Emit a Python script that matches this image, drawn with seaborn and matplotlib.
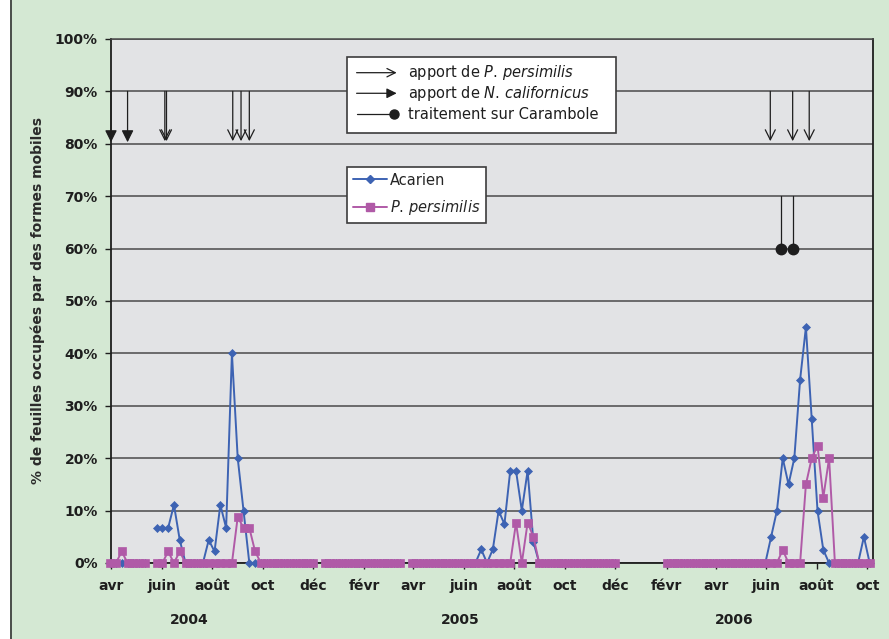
import numpy as np
import pandas as pd
import matplotlib.pyplot as plt
import matplotlib.dates as mdates
from matplotlib.patches import Rectangle
from matplotlib.lines import Line2D
from matplotlib.ticker import FuncFormatter, MultipleLocator
import seaborn as sns

# RELEVÉS HEBDOMADAIRES (un relevé tous les 7 jours à partir de la date de début)
CAMPAGNES = ['2004-03-31', '2004-05-26', '2004-12-15', '2005-03-30', '2006-02-01']

ACARIEN = [
    [0, 0, 0, 0, 0, 0, 0],
    [6.7, 6.7, 6.7, 11.1, 4.4, 0, 0, 0, 0, 4.4, 2.2, 11.1, 6.7, 40,
     20, 10, 0, 0, 0, 0, 0, 0, 0, 0, 0, 0, 0, 0],
    [0, 0, 0, 0, 0, 0, 0, 0, 0, 0, 0, 0, 0, 0],
    [0, 0, 0, 0, 0, 0, 0, 0, 0, 0, 0, 0, 2.6, 0, 2.6, 10, 7.4, 17.6,
     17.6, 10, 17.6, 4, 0, 0, 0, 0, 0, 0, 0, 0, 0, 0, 0, 0, 0, 0],
    [0, 0, 0, 0, 0, 0, 0, 0, 0, 0, 0, 0, 0, 0, 0, 0, 0, 0, 5, 10,
     20, 15, 20, 35, 45, 27.5, 10, 2.5, 0, 0, 0, 0, 0, 0, 5, 0],
]

PERSIMILIS = [
    [0, 0, 2.2, 0, 0, 0, 0],
    [0, 0, 2.2, 0, 2.2, 0, 0, 0, 0, 0, 0, 0, 0, 0,
     8.8, 6.7, 6.7, 2.2, 0, 0, 0, 0, 0, 0, 0, 0, 0, 0],
    [0, 0, 0, 0, 0, 0, 0, 0, 0, 0, 0, 0, 0, 0],
    [0, 0, 0, 0, 0, 0, 0, 0, 0, 0, 0, 0, 0, 0, 0, 0, 0, 0,
     7.7, 0, 7.7, 5, 0, 0, 0, 0, 0, 0, 0, 0, 0, 0, 0, 0, 0, 0],
    [0, 0, 0, 0, 0, 0, 0, 0, 0, 0, 0, 0, 0, 0, 0, 0, 0, 0, 0, 0,
     2.5, 0, 0, 0, 15, 20, 22.4, 12.5, 20, 0, 0, 0, 0, 0, 0, 0],
]

# interventions
APPORT_CALIFORNICUS = ['2004-04-01', '2004-04-21']
APPORT_PERSIMILIS = ['2004-06-05', '2004-06-07', '2004-08-26', '2004-09-05',
                     '2004-09-15', '2006-06-06', '2006-07-03', '2006-07-23']
TRAITEMENTS = ['2006-06-19', '2006-07-03']

MOIS = {2: 'févr', 4: 'avr', 6: 'juin', 8: 'août', 10: 'oct', 12: 'déc'}
ANNEES = ['2004', '2005', '2006']
ANNEES_POS = ['2004-07-05', '2005-05-28', '2006-04-24']

BLEU = '#3d63b3'
ROSE = '#b05aa7'
VERT = '#d4e8d3'
GRIS_FOND = '#e2e3e5'
GRILLE = '#4a4a4a'
NOIR = '#1e1e1e'

# MISE EN FORME DES DONNÉES
lignes = []
for num, (debut, aca, pers) in enumerate(zip(CAMPAGNES, ACARIEN, PERSIMILIS)):
    dates = pd.date_range(debut, periods=len(aca), freq='7D')
    for d, a, p in zip(dates, aca, pers):
        lignes.append((num, d, 'Acarien', a))
        lignes.append((num, d, 'P. persimilis', p))
df = pd.DataFrame(lignes, columns=['campagne', 'date', 'serie', 'valeur'])

sns.set_style('white')
plt.rcParams['font.family'] = ['DejaVu Sans']

fig = plt.figure(figsize=(8.89, 6.39), dpi=100)
fig.patch.set_facecolor(VERT)
fig.patches.append(Rectangle((0, 0), 10 / 889, 1, transform=fig.transFigure,
                             facecolor='white', edgecolor='none', zorder=0))
fig.lines.append(Line2D([10.5 / 889, 10.5 / 889], [0, 1], transform=fig.transFigure,
                        color='#333333', lw=1.2))

ax = fig.add_axes([111 / 889, 1 - 563 / 639, 762 / 889, 524 / 639])
ax.set_facecolor(GRIS_FOND)

for serie, couleur, marq, taille in [('Acarien', BLEU, 'D', 4.0),
                                     ('P. persimilis', ROSE, 's', 5.2)]:
    sns.lineplot(data=df[df.serie == serie], x='date', y='valeur', units='campagne',
                 estimator=None, color=couleur, marker=marq, markersize=taille,
                 markeredgecolor=couleur, markeredgewidth=0.5, lw=1.4,
                 legend=False, ax=ax, zorder=4, clip_on=False)

# axes
ax.set_xlim(mdates.date2num(pd.Timestamp('2004-04-01')),
            mdates.date2num(pd.Timestamp('2006-10-08')))
ax.set_ylim(0, 100)
ax.yaxis.set_major_locator(MultipleLocator(10))
ax.yaxis.set_major_formatter(FuncFormatter(lambda v, p: f'{v:.0f}%'))
ax.xaxis.set_major_locator(mdates.MonthLocator(bymonth=list(MOIS.keys())))
ax.xaxis.set_major_formatter(FuncFormatter(lambda v, p: MOIS[mdates.num2date(v).month]))
ax.grid(axis='y', color=GRILLE, lw=1.1)
ax.set_axisbelow(True)
ax.tick_params(axis='both', direction='out', length=4.5, width=1, color=NOIR,
               labelsize=10, labelcolor=NOIR, bottom=True, left=True)
ax.tick_params(axis='x', pad=7)
ax.tick_params(axis='y', pad=5)
for lab in ax.get_xticklabels() + ax.get_yticklabels():
    lab.set_fontweight('bold')
for cote in ['left', 'bottom', 'right']:
    ax.spines[cote].set_color(NOIR)
    ax.spines[cote].set_linewidth(1.3)
ax.spines['top'].set_color(GRILLE)
ax.spines['top'].set_linewidth(1.1)

ax.set_xlabel('')
ax.set_ylabel('% de feuilles occupées par des formes mobiles', fontsize=10,
              fontweight='bold', color='#2a2a2a')
ax.yaxis.set_label_coords(-0.087, 0.5)

for annee, pos in zip(ANNEES, ANNEES_POS):
    ax.text(mdates.date2num(pd.Timestamp(pos)), -0.109, annee, transform=ax.get_xaxis_transform(),
            ha='center', va='center', fontsize=10, fontweight='bold', color=NOIR)

# flèches d'apports et traitements
for d in APPORT_PERSIMILIS:
    x = mdates.date2num(pd.Timestamp(d))
    ax.annotate('', xy=(x, 80.5), xytext=(x, 90),
                arrowprops=dict(arrowstyle='->', color=NOIR, lw=0.9, shrinkA=0, shrinkB=0,
                                mutation_scale=18), zorder=5)
for d in APPORT_CALIFORNICUS:
    x = mdates.date2num(pd.Timestamp(d))
    ax.annotate('', xy=(x, 80.3), xytext=(x, 90),
                arrowprops=dict(arrowstyle='-|>', color=NOIR, lw=0.9, shrinkA=0, shrinkB=0,
                                mutation_scale=18), zorder=5)
for d in TRAITEMENTS:
    x = mdates.date2num(pd.Timestamp(d))
    ax.plot([x, x], [70, 60], color=NOIR, lw=0.9, zorder=5)
    ax.plot([x], [60], marker='o', markersize=7.5, color=NOIR, zorder=5)

# légende des interventions (dessinée à la main)
ax.add_patch(Rectangle((0.310, 0.820), 0.3527, 0.1462, transform=ax.transAxes,
                       facecolor='white', edgecolor='#3c3c3c', lw=1.2, zorder=6))
rangs = [0.9357, 0.8964, 0.8563]
textes = [r'apport de $\it{P.\,persimilis}$', r'apport de $\it{N.\,californicus}$',
          'traitement sur Carambole']
ax.annotate('', xy=(0.3749, rangs[0]), xytext=(0.3223, rangs[0]), xycoords='axes fraction',
            arrowprops=dict(arrowstyle='->', color=NOIR, lw=0.9, shrinkA=0, shrinkB=0,
                            mutation_scale=15), zorder=7)
ax.annotate('', xy=(0.3749, rangs[1]), xytext=(0.3223, rangs[1]), xycoords='axes fraction',
            arrowprops=dict(arrowstyle='-|>', color=NOIR, lw=0.9, shrinkA=0, shrinkB=0,
                            mutation_scale=15), zorder=7)
ax.plot([0.3223, 0.3720], [rangs[2], rangs[2]], transform=ax.transAxes, color=NOIR, lw=0.9, zorder=7)
ax.plot([0.3720], [rangs[2]], transform=ax.transAxes, marker='o', markersize=6.5,
        color=NOIR, zorder=7)
for y, t in zip(rangs, textes):
    ax.text(0.3902, y, t, transform=ax.transAxes, va='center', ha='left',
            fontsize=10.5, color=NOIR, zorder=7)

# légende des séries
poignees = [Line2D([], [], color=BLEU, marker='D', markersize=4.0, markeredgecolor=BLEU, lw=1.4),
            Line2D([], [], color=ROSE, marker='s', markersize=5.2, markeredgecolor=ROSE, lw=1.4)]
leg = ax.legend(poignees, ['Acarien', r'$\it{P.\,persimilis}$'], loc='upper left',
                bbox_to_anchor=(0.310, 0.7563), borderaxespad=0, fontsize=10.5,
                handlelength=2.3, handletextpad=0.25, borderpad=0.4, labelspacing=0.75,
                frameon=True, fancybox=False, framealpha=1)
leg.get_frame().set_edgecolor('#3c3c3c')
leg.get_frame().set_linewidth(1.2)
leg.set_zorder(7)

plt.savefig('out.png', dpi=100, facecolor=fig.get_facecolor())
plt.close()
